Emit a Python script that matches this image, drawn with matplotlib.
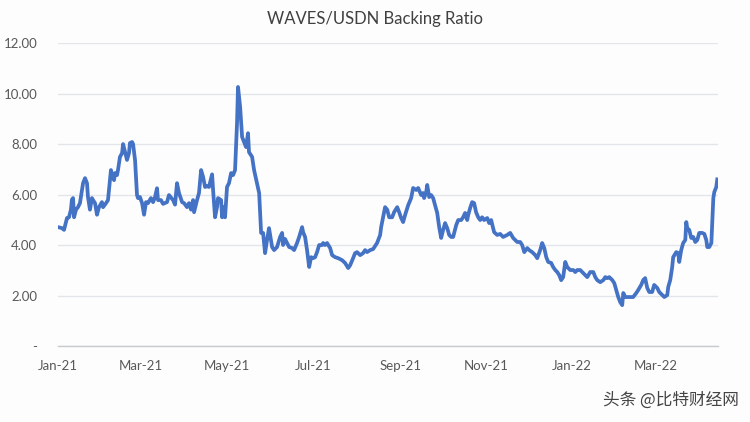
"""
WAVES/USDN backing ratio - line chart
"""

import numpy as np
import pandas as pd
import matplotlib
matplotlib.use("Agg")
import matplotlib.pyplot as plt
import matplotlib.dates as mdates
from matplotlib.ticker import FixedLocator, FuncFormatter

# days since 2021-01-01
days = [
    0.0, 2.8, 4.3, 6.4, 7.8, 9.2, 9.9, 10.7, 11.4, 12.8, 14.2, 15.6, 17.8, 19.2,
    20.6, 21.3, 22.7, 24.1, 24.9, 26.3, 27.7, 29.1, 31.2, 32.0, 34.1, 35.5,
    37.6, 39.1, 39.8, 40.5, 41.9, 42.6, 44.0, 45.5, 46.2, 47.6, 49.0, 50.4,
    51.1, 52.6, 53.3, 54.7, 56.1, 56.8, 58.2, 59.7, 61.1, 62.5, 63.9, 66.0,
    67.5, 68.9, 70.3, 71.0, 73.1, 74.6, 77.4,
    78.8, 81.7, 83.1, 84.5, 85.9, 88.1, 89.5, 91.6, 93.0, 94.5, 95.9, 96.6,
    98.7, 100.1, 101.6, 103.0, 104.4, 105.8, 107.2, 109.4, 110.1, 111.5,
    112.9, 113.6, 115.8, 116.5, 117.2, 118.6, 120.0, 121.4, 122.9, 124.3,
    125.7, 127.1, 127.8, 129.3, 130.7, 132.1, 133.5, 134.9, 135.6, 137.8,
    139.2, 141.3, 142.8, 143.5, 144.2, 145.6, 147.0, 148.4, 149.8,
    152.0, 153.4, 155.5, 157.7, 159.1, 159.8, 161.2, 162.6, 164.1, 166.2,
    167.6, 169.7, 171.2, 173.3, 174.0, 175.4, 176.8, 178.3, 179.7, 181.1,
    182.5, 183.9, 185.4, 187.5, 188.2, 189.6, 191.0, 193.2, 194.6, 196.7,
    198.9, 201.7, 203.8, 206.0, 207.4, 209.5, 210.9, 212.3, 214.5, 216.6,
    218.0, 219.4, 221.6, 223.7, 226.5, 227.3, 228.7, 229.4, 230.8, 232.2,
    233.7, 235.1, 237.2, 238.6, 240.8, 242.2, 243.6, 245.0, 246.4, 248.6,
    250.7, 252.1, 254.3, 255.7, 257.8, 259.2, 259.9, 261.4, 262.1, 263.5,
    264.9, 266.3, 267.7, 269.2, 270.6, 272.0, 273.4, 274.8, 276.3, 277.7,
    279.1, 280.5, 282.7, 284.1, 286.2, 287.6, 289.0, 290.5, 291.2, 292.6,
    294.0, 295.4, 296.8, 298.3, 299.7, 301.1, 302.5, 304.7, 306.1, 307.5,
    309.6, 311.8, 313.9, 316.0, 318.9, 321.0, 323.1, 324.6, 326.0, 328.1,
    329.5, 331.0, 333.1, 334.5, 336.6, 338.8, 340.2, 342.3, 343.7, 345.2,
    346.6, 348.0, 350.1, 351.5, 353.0, 354.4, 355.8, 357.2, 358.6, 360.1,
    361.5, 363.6, 365.8, 367.2, 368.6, 370.7, 372.8, 374.3, 375.7, 377.8,
    380.0, 381.4, 382.8, 384.9, 387.1, 388.5, 389.9, 391.3, 393.5, 394.9,
    396.3, 397.7, 399.1, 400.5, 401.3, 402.7, 404.1, 406.2, 408.3, 410.5,
    411.9, 414.0, 415.4, 416.8, 418.3, 419.7, 421.8, 423.2, 425.4, 426.8,
    428.9, 430.4, 432.5, 433.2, 434.6, 436.0, 436.7, 438.9, 440.3, 441.0,
    442.4, 443.8, 445.3, 446.0, 446.7, 448.1, 449.5, 450.9, 452.4, 453.8,
    455.2, 457.3, 458.8, 460.2, 460.9, 462.3, 463.8, 465.2, 465.9, 467.3,
    468.0,
]

ratio = [
    4.71, 4.67, 4.60, 5.07, 5.10, 5.40, 5.80, 5.86, 5.10, 5.40, 5.50, 5.66, 6.45, 6.65,
    6.45, 5.90, 5.40, 5.86, 5.78, 5.66, 5.20, 5.50, 5.70, 5.50, 5.66, 5.78,
    6.97, 6.65, 6.57, 6.85, 6.77, 6.97, 7.49, 7.64, 8.00, 7.68, 7.37, 7.64,
    8.04, 8.08, 8.00, 7.37, 5.98, 5.86, 5.90, 5.66, 5.20, 5.70, 5.66, 5.86,
    5.70, 5.90, 6.25, 5.78, 5.78, 5.63, 5.70,
    5.98, 5.78, 5.60, 6.45, 6.06, 5.70, 5.66, 5.50, 5.66, 5.40, 5.78, 5.30,
    5.78, 6.06, 6.97, 6.70, 6.30, 6.33, 6.30, 6.80, 6.18, 5.10,
    5.50, 5.86, 5.78, 5.10, 5.50, 5.10, 6.30, 6.45, 6.85, 6.77,
    6.97, 8.83, 10.26, 9.47, 8.28, 8.08, 7.88, 8.43, 7.68, 7.49,
    6.97, 6.45, 6.06, 5.27, 4.48, 4.48, 3.68, 4.20, 4.67,
    3.92, 3.80, 3.92, 4.32, 4.48, 4.00, 4.24, 4.08, 3.92, 3.88,
    3.80, 4.08, 4.32, 4.71, 4.51, 4.32, 3.80, 3.13, 3.52, 3.48,
    3.52, 3.72, 4.00, 4.00, 4.08, 4.00, 4.08, 3.88, 3.60, 3.52,
    3.48, 3.40, 3.29, 3.09, 3.20, 3.48, 3.68, 3.72, 3.60, 3.68,
    3.80, 3.72, 3.80, 3.84, 4.08, 4.20, 4.40, 4.71, 5.10, 5.50,
    5.40, 5.10, 5.10, 5.30, 5.50, 5.30, 5.07, 4.91, 5.19, 5.58,
    5.86, 6.26, 6.18, 6.26, 5.98, 6.06, 5.86, 6.10, 6.38, 5.90,
    5.98, 5.86, 5.58, 5.27, 4.71, 4.28, 4.60, 4.87, 4.67, 4.40,
    4.32, 4.32, 4.79, 4.99, 4.99, 5.10, 5.27, 4.99, 5.19, 5.47,
    5.70, 5.66, 5.30, 5.10, 4.99, 5.10, 4.99, 5.07, 4.87, 4.99,
    4.51, 4.40, 4.44, 4.32, 4.40, 4.48, 4.28, 4.20, 4.12, 4.12,
    4.00, 3.72, 3.88, 3.80, 3.72, 3.60, 3.48, 3.80, 4.08, 3.88,
    3.52, 3.33, 3.29, 3.13, 3.01, 2.93, 2.81, 2.61, 2.73, 3.33,
    3.13, 3.01, 3.01, 2.93, 3.01, 3.01, 2.89, 2.81, 2.73, 2.93,
    2.93, 2.73, 2.61, 2.53, 2.61, 2.73, 2.69, 2.73, 2.61, 2.49,
    2.22, 1.94, 1.74, 1.62, 2.10, 1.94, 1.94, 1.94, 1.94, 2.10,
    2.22, 2.42, 2.61, 2.69, 2.30, 2.14, 2.14, 2.42, 2.30, 2.14,
    2.02, 1.94, 2.02, 2.34, 2.61, 3.13, 3.52, 3.72, 3.68, 3.33,
    3.80, 4.08, 4.20, 4.91, 4.67, 4.60, 4.28, 4.32, 4.12, 4.20,
    4.48, 4.48, 4.44, 4.20, 3.92, 3.92, 4.08, 5.86, 6.10, 6.30,
    6.60,
]

y_ticks = [0, 2, 4, 6, 8, 10, 12]
title = "WAVES/USDN Backing Ratio"
watermark = "头条 @比特财经网"

start = pd.Timestamp("2021-01-01")
dates = start + pd.to_timedelta(np.array(days), unit="D")

plt.rcParams['font.family'] = ['Lato', 'DejaVu Sans']

fig = plt.figure(figsize=(7.5, 4.22), dpi=100)
fig.patch.set_facecolor('#fdfdfe')
ax = fig.add_axes([0.0773, 0.180, 0.880, 0.718])
ax.set_facecolor('#fdfdfe')

ax.plot(dates, ratio, color='#4472C4', linewidth=2.7, solid_joinstyle='round')

ax.set_ylim(0, 12)
ax.set_xlim(start, start + pd.Timedelta(days=468.5))

ax.yaxis.set_major_locator(FixedLocator(y_ticks))
ax.yaxis.set_major_formatter(FuncFormatter(lambda v, p: '-' if v == 0 else f'{v:.2f}'))
ax.xaxis.set_major_locator(mdates.MonthLocator(bymonth=[1, 3, 5, 7, 9, 11]))
ax.xaxis.set_major_formatter(mdates.DateFormatter('%b-%y'))

ax.grid(True, axis='y', color='#e3e5e8', linewidth=1)
ax.set_axisbelow(True)
for side in ['top', 'right', 'left']:
    ax.spines[side].set_visible(False)
ax.spines['bottom'].set_color('#c8cacd')
ax.spines['bottom'].set_linewidth(1)

ax.tick_params(axis='both', length=0, labelsize=9.5, colors='#595959')
ax.tick_params(axis='y', pad=15)
ax.tick_params(axis='x', pad=10)

fig.text(0.5, 0.955, title, ha='center', va='center', fontsize=12, color='#404040')
fig.text(0.985, 0.052, watermark, ha='right', va='center', fontsize=12,
         color='#444444', family=['Noto Sans CJK SC', 'DejaVu Sans'])

fig.savefig("out.png", dpi=100, facecolor=fig.get_facecolor())
